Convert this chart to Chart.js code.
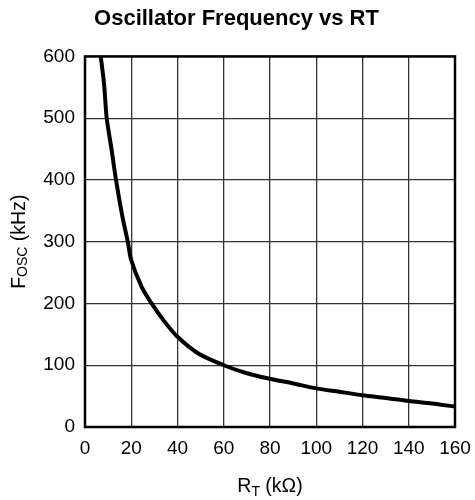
<!DOCTYPE html>
<html>
<head>
<meta charset="utf-8">
<script src="https://cdn.jsdelivr.net/npm/chart.js@4/dist/chart.umd.min.js"></script>
<style>
  html, body { margin: 0; padding: 0; background: #fff; }
  #wrap { width: 475px; height: 500px; }
</style>
</head>
<body>
<div id="wrap"><canvas id="chart" width="475" height="500"></canvas></div>
<script>
// values
const rtValues = [6.8, 8.2, 9.4, 11.5, 13.4, 16.2, 18.5, 20, 24.5, 28.8, 33.9, 40, 49, 60, 70, 80, 90, 100, 110, 120, 130, 140, 150, 160];
const foscValues = [600, 557, 500, 449, 400, 340, 300, 270, 227, 200, 173, 146, 119, 100, 87, 78, 70.5, 62.5, 57, 51.5, 47, 42, 38, 33];
const xTicks = [0, 20, 40, 60, 80, 100, 120, 140, 160];
const yTicks = [0, 100, 200, 300, 400, 500, 600];

const FONT = '"Liberation Sans", Arial, Helvetica, sans-serif';

// frame + axis titles with subscripts
const decorations = {
  id: 'decorations',
  afterDatasetsDraw(chart) {
    const { ctx, chartArea: a } = chart;
    ctx.save();
    ctx.strokeStyle = '#000';
    ctx.lineWidth = 2.5;
    ctx.strokeRect(a.left, a.top, a.right - a.left, a.bottom - a.top);
    ctx.restore();
  },
  afterDraw(chart) {
    const { ctx, chartArea: a } = chart;
    ctx.save();
    ctx.fillStyle = '#000';
    ctx.textBaseline = 'alphabetic';

    // x title: R_T (kΩ)
    const big = '19.5px ' + FONT, small = '14px ' + FONT;
    ctx.font = big;
    const wR = ctx.measureText('R').width;
    const wRest = ctx.measureText(' (kΩ)').width;
    ctx.font = small;
    const wT = ctx.measureText('T').width;
    const total = wR + wT + wRest;
    let x = (a.left + a.right) / 2 - total / 2;
    const yb = 492;
    ctx.font = big; ctx.fillText('R', x, yb); x += wR;
    ctx.font = small; ctx.fillText('T', x, yb + 4); x += wT;
    ctx.font = big; ctx.fillText(' (kΩ)', x, yb);

    // y title: F_OSC (kHz), rotated
    ctx.translate(25, (a.top + a.bottom) / 2);
    ctx.rotate(-Math.PI / 2);
    ctx.font = big;
    const wF = ctx.measureText('F').width;
    const wK = ctx.measureText(' (kHz)').width;
    ctx.font = small;
    const wO = ctx.measureText('OSC').width;
    let t = -(wF + wO + wK) / 2;
    ctx.font = big; ctx.fillText('F', t, 0); t += wF;
    ctx.font = small; ctx.fillText('OSC', t, 2); t += wO;
    ctx.font = big; ctx.fillText(' (kHz)', t, 0);
    ctx.restore();
  }
};

new Chart(document.getElementById('chart'), {
  type: 'scatter',
  data: {
    datasets: [{
      data: rtValues.map((r, i) => ({ x: r, y: foscValues[i] })),
      showLine: true,
      borderColor: '#000',
      borderWidth: 4,
      pointRadius: 0,
      tension: 0.3,
      fill: false
    }]
  },
  options: {
    responsive: false,
    animation: false,
    layout: { padding: { left: 9, right: 11, top: 0, bottom: 0 } },
    plugins: {
      legend: { display: false },
      tooltip: { enabled: false },
      title: {
        display: true,
        text: 'Oscillator Frequency vs RT',
        color: '#000',
        font: { family: FONT, size: 22, weight: 'bold' },
        padding: { top: 6, bottom: 24 }
      }
    },
    scales: {
      x: {
        type: 'linear',
        min: 0,
        max: 160,
        afterBuildTicks(scale) { scale.ticks = xTicks.map(v => ({ value: v })); },
        afterFit(scale) { scale.height = 73; scale.paddingRight = 20; },
        ticks: { color: '#000', padding: 10, font: { family: FONT, size: 19 }, maxRotation: 0 },
        grid: { color: '#333', lineWidth: 1.3, drawTicks: false },
        border: { display: false }
      },
      y: {
        type: 'linear',
        min: 0,
        max: 600,
        afterBuildTicks(scale) { scale.ticks = yTicks.map(v => ({ value: v })); },
        afterFit(scale) { scale.width = 76; },
        ticks: { color: '#000', padding: 10, font: { family: FONT, size: 19 } },
        grid: { color: '#333', lineWidth: 1.3, drawTicks: false },
        border: { display: false }
      }
    }
  },
  plugins: [decorations]
});
</script>
</body>
</html>
